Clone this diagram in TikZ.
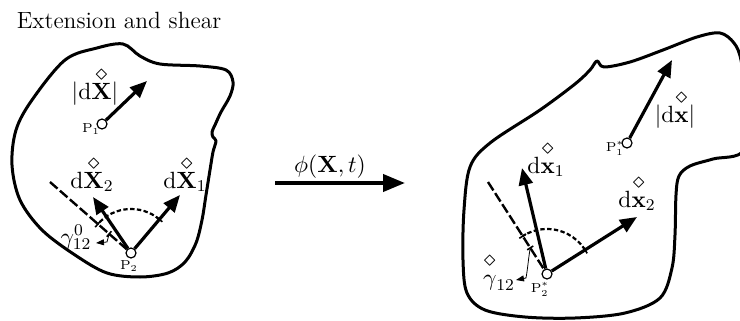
\RequirePackage{fix-cm}
\documentclass[tikz,border=0pt]{standalone}
\usepackage{amsmath}
\usetikzlibrary{arrows.meta,calc}
\newcommand{\dm}[1]{\overset{\raisebox{-1pt}{$\diamond$}}{\vphantom{\mathbf{X}}#1}}
\begin{document}
\begin{tikzpicture}[x=0.5pt,y=-0.5pt,
  outline/.style={line width=1.5pt, line join=round},
  vec/.style={line width=1.6pt,-{Triangle[length=8.5pt,width=7pt]}},
  bigvec/.style={line width=2pt,-{Triangle[length=11pt,width=8.5pt]}},
  pt/.style={circle,draw,fill=white,line width=0.6pt,minimum size=5pt,inner sep=0pt},
  plab/.style={font=\fontsize{6.5}{7}\selectfont,anchor=base,inner sep=0pt},
  lab/.style={font=\fontsize{11.75}{14}\selectfont,anchor=base,inner sep=0pt},
  refline/.style={line width=1.2pt,dash pattern=on 5pt off 1.6pt},
  angarc/.style={line width=1.1pt,dash pattern=on 2.2pt off 1.2pt},
  tick/.style={line width=0.8pt},
  lead/.style={line width=0.4pt,-{Triangle[length=4pt,width=3pt]}},
]
\clip (0,0) rectangle (740,321);

\node[lab] (title) at (119,28) {Extension and shear};

% ---------- left body ----------
\draw[outline] plot[smooth cycle,tension=0.55] coordinates {(123,44) (140,56) (160,64) (200,66) (226,70) (233,82) (230,96) (221,112) (215,125) (212,132) (213,137) (216,141) (213,152) (210,170) (206,195) (202,220) (196,243) (185,262) (168,273) (140,277) (107,273) (75,255) (42,230) (20,200) (12,165) (16,130) (32,100) (65,60) (97,48)};

\node[pt] (P1) at (102,124) {};
\coordinate (T1) at (147,81);
\draw[vec] (P1) -- (T1);
\node[plab] (P1l) at (91,132) {$\mathrm{P}_{1}$};
\node[lab] (L1) at (95,99) {$|\mathrm{d}\dm{\mathbf{X}}|$};

\node[pt] (P2) at (131,253) {};
\coordinate (D2) at (50,182);
\draw[refline] (D2) -- (P2);
\draw[angarc] ($(P2)+(50:22pt)$) arc[start angle=50,end angle=139,radius=22pt];
\draw[tick] ($(P2)+(50:22pt)+(140:2pt)$) -- ($(P2)+(50:22pt)+(-40:2pt)$);
\draw[tick] ($(P2)+(139:22pt)+(229:2pt)$) -- ($(P2)+(139:22pt)+(49:2pt)$);
\coordinate (T2a) at (180,195);
\coordinate (T2b) at (93,197);
\draw[vec] (P2) -- (T2a);
\draw[vec] (P2) -- (T2b);
\coordinate (G1) at ($(P2)+(139:14.5pt)$);
\coordinate (G2) at (107,242);
\coordinate (G3) at (96,243);
\draw[tick] ($(G1)+(229:1.8pt)$) -- ($(G1)+(49:1.8pt)$);
\draw[lead] (G1) -- (G2) -- (G3);
\node[plab] (P2l) at (129,269) {$\mathrm{P}_{2}$};
\node[lab] (L2a) at (185,188) {$\mathrm{d}{\dm{\mathbf{X}}}_{1}$};
\node[lab] (L2b) at (92,188) {$\mathrm{d}{\dm{\mathbf{X}}}_{2}$};
\node[lab] (Lg) at (76,244) {$\gamma^{0}_{12}$};

% ---------- mapping arrow ----------
\coordinate (A) at (275,183);
\coordinate (B) at (405,183);
\draw[bigvec] (A) -- (B);
\node[lab] (phi) at (330,172) {$\phi(\mathbf{X},t)$};

% ---------- right body ----------
\draw[outline] plot[smooth cycle,tension=0.55] coordinates {(597,61) (604,67) (630,62) (663,50) (697,37) (720,33) (734,43) (741,60) (746,100) (744,150) (713,159) (690,166) (679,176) (676,195) (675,235) (672,268) (660,298) (625,313) (575,318) (525,317) (485,310) (467,293) (463,260) (464,210) (470,167) (490,143) (540,110) (575,84) (590,70)};

\node[pt] (Q1) at (627,143) {};
\coordinate (U1) at (672,60);
\draw[vec] (Q1) -- (U1);
\node[plab] (Q1l) at (615,151) {$\mathrm{P}^{*}_{1}$};
\node[lab] (M1) at (675,122) {$|\mathrm{d}\dm{\mathbf{x}}|$};

\node[pt] (Q2) at (547,274) {};
\coordinate (E2) at (488,182);
\draw[refline] (E2) -- (Q2);
\draw[angarc] ($(Q2)+(32.3:22.5pt)$) arc[start angle=32.3,end angle=122.7,radius=22.5pt];
\draw[tick] ($(Q2)+(32.3:22.5pt)+(122.3:2pt)$) -- ($(Q2)+(32.3:22.5pt)+(-57.7:2pt)$);
\draw[tick] ($(Q2)+(122.7:22.5pt)+(212.7:2pt)$) -- ($(Q2)+(122.7:22.5pt)+(32.7:2pt)$);
\coordinate (U2a) at (522,168);
\coordinate (U2b) at (637,217);
\draw[vec] (Q2) -- (U2a);
\draw[vec] (Q2) -- (U2b);
\coordinate (H1) at ($(Q2)+(122.7:15.5pt)$);
\coordinate (H2) at (526,278);
\coordinate (H3) at (516,280);
\draw[tick] ($(H1)+(212.7:1.8pt)$) -- ($(H1)+(32.7:1.8pt)$);
\draw[lead] (H1) to[out=-100,in=80] (H2) -- (H3);
\node[plab] (Q2l) at (540,292) {$\mathrm{P}^{*}_{2}$};
\node[lab] (M2a) at (546,173) {$\mathrm{d}{\dm{\mathbf{x}}}_{1}$};
\node[lab] (M2b) at (637,207) {$\mathrm{d}{\dm{\mathbf{x}}}_{2}$};
\node[lab] (Mg) at (499,285) {${\dm{\gamma}}_{12}$};
\end{tikzpicture}
\end{document}
